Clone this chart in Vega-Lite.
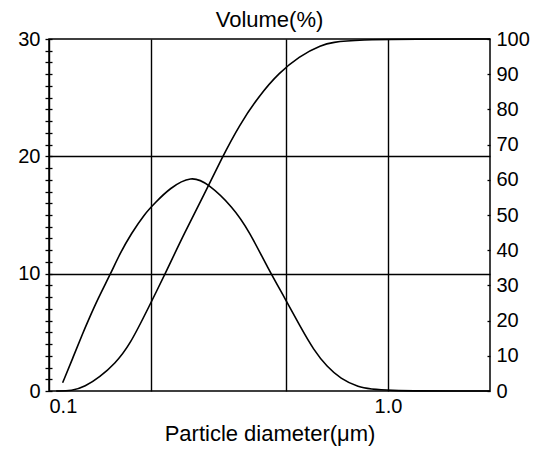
{
  "$schema": "https://vega.github.io/schema/vega-lite/v6.json",
  "autosize": "none",
  "padding": {"left": 49, "top": 39, "right": 44, "bottom": 66},
  "width": 441,
  "height": 352,
  "background": "white",
  "title": {
    "text": "Volume(%)",
    "font": "Liberation Sans",
    "fontSize": 22,
    "fontWeight": "normal",
    "color": "black",
    "anchor": "middle",
    "frame": "group",
    "offset": -3
  },
  "config": {
    "view": {"stroke": "black", "strokeWidth": 1.5},
    "axis": {
      "labelFont": "Liberation Sans",
      "titleFont": "Liberation Sans",
      "labelColor": "black",
      "titleColor": "black",
      "tickColor": "black",
      "domainColor": "black",
      "gridColor": "black",
      "labelFontSize": 20,
      "titleFontSize": 22,
      "titleFontWeight": "normal"
    }
  },
  "encoding": {
    "x": {
      "field": "d",
      "type": "quantitative",
      "scale": {"type": "log", "domain": [0.1, 2], "nice": false},
      "axis": {
        "title": "Particle diameter(μm)",
        "values": [0.1, 0.2, 0.5, 1],
        "format": ".1f",
        "labelExpr": "(datum.value === 0.1 || datum.value === 1) ? datum.label : ''",
        "labelFlush": true,
        "labelPadding": 5,
        "ticks": false,
        "domain": false,
        "grid": true,
        "gridWidth": 1.4,
        "titlePadding": 7
      }
    }
  },
  "layer": [
    {
      "data": {
        "values": [
          {"d": 0.1097, "freq": 0.7},
          {"d": 0.1179, "freq": 2.9},
          {"d": 0.1261, "freq": 5.0},
          {"d": 0.1305, "freq": 6.0},
          {"d": 0.1396, "freq": 7.9},
          {"d": 0.152, "freq": 10.0},
          {"d": 0.1618, "freq": 11.7},
          {"d": 0.1747, "freq": 13.4},
          {"d": 0.1915, "freq": 15.1},
          {"d": 0.205, "freq": 16.0},
          {"d": 0.2271, "freq": 17.3},
          {"d": 0.263, "freq": 18.35},
          {"d": 0.294, "freq": 17.7},
          {"d": 0.3483, "freq": 15.7},
          {"d": 0.3899, "freq": 13.6},
          {"d": 0.4416, "freq": 10.5},
          {"d": 0.5, "freq": 7.75},
          {"d": 0.5506, "freq": 5.5},
          {"d": 0.6035, "freq": 3.5},
          {"d": 0.6614, "freq": 2.05},
          {"d": 0.7251, "freq": 1.05},
          {"d": 0.8133, "freq": 0.34},
          {"d": 0.93, "freq": 0.0},
          {"d": 2.0, "freq": 0.0}
        ]
      },
      "mark": {"type": "line", "color": "black", "strokeWidth": 1.6, "interpolate": "basis"},
      "encoding": {
        "y": {
          "field": "freq",
          "type": "quantitative",
          "scale": {"domain": [0, 30], "nice": false},
          "axis": {
            "orient": "left",
            "title": null,
            "values": [0,1,2,3,4,5,6,7,8,9,10,11,12,13,14,15,16,17,18,19,20,21,22,23,24,25,26,27,28,29,30],
            "labelExpr": "datum.value % 10 === 0 ? datum.label : ''",
            "offset": -3,
            "tickSize": 7,
            "tickWidth": 1.3,
            "domain": false,
            "labelPadding": 5,
            "grid": true,
            "gridWidth": 1.4,
            "gridOpacity": {"condition": {"test": "datum.value === 10 || datum.value === 20", "value": 1}, "value": 0}
          }
        }
      }
    },
    {
      "data": {
        "values": [
          {"d": 0.105, "cum": 0.0},
          {"d": 0.1169, "cum": 0.0},
          {"d": 0.1276, "cum": 1.2},
          {"d": 0.1413, "cum": 4.0},
          {"d": 0.1563, "cum": 7.7},
          {"d": 0.1731, "cum": 13.0},
          {"d": 0.1982, "cum": 24.4},
          {"d": 0.2194, "cum": 33.0},
          {"d": 0.2512, "cum": 45.0},
          {"d": 0.2877, "cum": 56.0},
          {"d": 0.3228, "cum": 66.0},
          {"d": 0.3646, "cum": 75.6},
          {"d": 0.4175, "cum": 84.0},
          {"d": 0.4779, "cum": 90.5},
          {"d": 0.5472, "cum": 95.0},
          {"d": 0.6266, "cum": 98.2},
          {"d": 0.7424, "cum": 100.0},
          {"d": 2.0, "cum": 100.0}
        ]
      },
      "mark": {"type": "line", "color": "black", "strokeWidth": 1.6, "interpolate": "basis"},
      "encoding": {
        "y": {
          "field": "cum",
          "type": "quantitative",
          "scale": {"domain": [0, 100], "nice": false},
          "axis": {
            "orient": "right",
            "title": null,
            "values": [0,10,20,30,40,50,60,70,80,90,100],
            "offset": -3,
            "tickSize": 3,
            "tickWidth": 1.3,
            "domain": false,
            "labelPadding": 6,
            "grid": false
          }
        }
      }
    }
  ],
  "resolve": {"scale": {"y": "independent"}}
}
